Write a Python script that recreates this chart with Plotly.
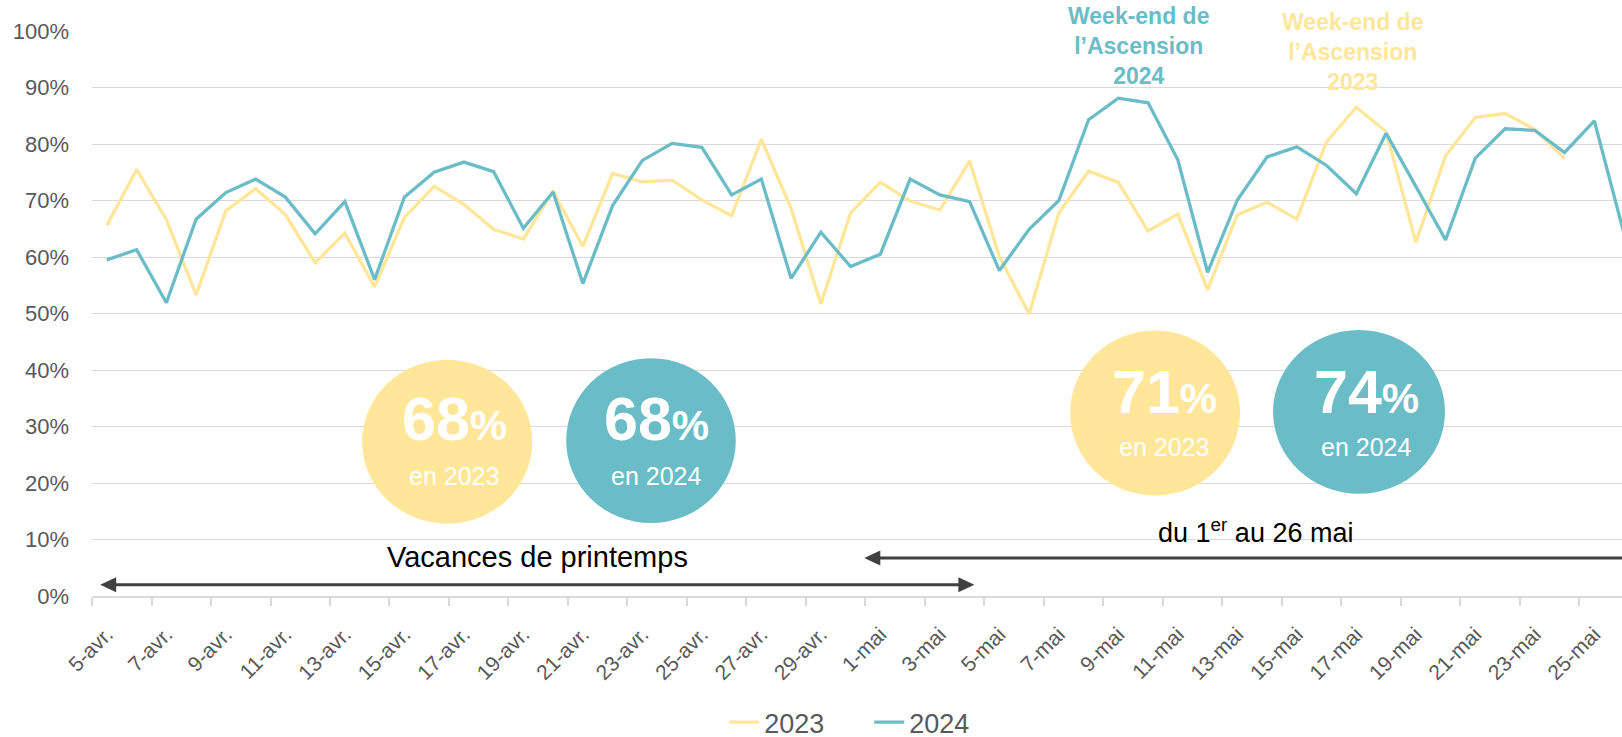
import plotly.graph_objects as go

# ---------------- data ----------------
dates = [
    "5-avr.", "6-avr.", "7-avr.", "8-avr.", "9-avr.", "10-avr.", "11-avr.", "12-avr.",
    "13-avr.", "14-avr.", "15-avr.", "16-avr.", "17-avr.", "18-avr.", "19-avr.", "20-avr.",
    "21-avr.", "22-avr.", "23-avr.", "24-avr.", "25-avr.", "26-avr.", "27-avr.", "28-avr.",
    "29-avr.", "30-avr.",
    "1-mai", "2-mai", "3-mai", "4-mai", "5-mai", "6-mai", "7-mai", "8-mai", "9-mai",
    "10-mai", "11-mai", "12-mai", "13-mai", "14-mai", "15-mai", "16-mai", "17-mai",
    "18-mai", "19-mai", "20-mai", "21-mai", "22-mai", "23-mai", "24-mai", "25-mai", "26-mai",
]

occ_2023 = [
    65.6, 75.5, 66.6, 53.3, 68.2, 72.1, 67.5, 59.0, 64.2, 54.7,
    67.0, 72.5, 69.3, 64.9, 63.2, 71.6, 61.9, 74.8, 73.3, 73.6,
    70.1, 67.3, 80.8, 68.6, 51.7, 67.8,
    73.2, 69.9, 68.3, 77.0, 60.1, 49.9, 67.8, 75.2, 73.2, 64.6,
    67.6, 54.2, 67.5, 69.7, 66.7, 80.4, 86.5, 82.2, 62.6, 77.9,
    84.7, 85.4, 82.6, 77.4, None, None,
]

occ_2024 = [
    59.5, 61.3, 51.9, 66.7, 71.4, 73.8, 70.6, 64.1, 69.8, 56.0,
    70.6, 75.0, 76.8, 75.1, 65.1, 71.5, 55.3, 69.1, 77.1, 80.1,
    79.4, 71.0, 73.8, 56.2, 64.4, 58.3,
    60.5, 73.8, 71.0, 69.8, 57.6, 64.9, 70.0, 84.3, 88.1, 87.3,
    77.2, 57.3, 70.1, 77.7, 79.5, 76.2, 71.2, 81.9, 72.5, 63.0,
    77.5, 82.7, 82.4, 78.5, 84.1, 64.1,
]

series_names = ["2023", "2024"]
avg_spring = ["68", "68"]      # vacances de printemps
avg_may = ["71", "74"]         # du 1er au 26 mai

YELLOW = "#FFE699"
TEAL = "#6ABDC6"
GRID = "#D9D9D9"
LABEL = "#595959"
ARROW = "#404040"
FONT = "Liberation Sans, Arial, sans-serif"

x_idx = list(range(len(dates)))

fig = go.Figure()
for name, vals, col in zip(series_names, [occ_2023, occ_2024], [YELLOW, TEAL]):
    fig.add_trace(go.Scatter(
        x=x_idx, y=vals, mode="lines", name=name,
        line=dict(color=col, width=3.3), hoverinfo="skip",
    ))

# ---------------- bubbles ----------------
bubbles = [
    # x0, x1, y0, y1, color
    (8.58, 14.30, 12.8, 41.8, YELLOW),
    (15.44, 21.14, 12.9, 42.1, TEAL),
    (32.38, 38.09, 17.8, 47.0, YELLOW),
    (39.20, 44.98, 18.1, 47.1, TEAL),
]
for x0, x1, y0, y1, col in bubbles:
    fig.add_shape(type="circle", xref="x", yref="y", x0=x0, x1=x1, y0=y0, y1=y1,
                  fillcolor=col, line=dict(width=0), layer="above")

bubble_text = [
    (11.67, 31.27, 21.17, avg_spring[0], series_names[0]),
    (18.46, 31.27, 21.17, avg_spring[1], series_names[1]),
    (35.54, 36.10, 26.46, avg_may[0], series_names[0]),
    (42.33, 36.10, 26.46, avg_may[1], series_names[1]),
]
annotations = []
for x, yb, ys, val, yr in bubble_text:
    annotations.append(dict(
        x=x, y=yb, xref="x", yref="y", showarrow=False, xanchor="center", yanchor="middle",
        text=f"<b>{val}<span style='font-size:42px'>%</span></b>",
        font=dict(family=FONT, size=61, color="white"),
    ))
    annotations.append(dict(
        x=x, y=ys, xref="x", yref="y", showarrow=False, xanchor="center", yanchor="middle",
        text=f"en {yr}", font=dict(family=FONT, size=25, color="white"),
    ))

# Ascension labels
annotations.append(dict(
    x=34.67, y=97.33, xref="x", yref="y", showarrow=False, xanchor="center", yanchor="middle",
    text="<b>Week-end de<br>l’Ascension<br>2024</b>",
    font=dict(family=FONT, size=23, color=TEAL),
))
annotations.append(dict(
    x=41.87, y=96.37, xref="x", yref="y", showarrow=False, xanchor="center", yanchor="middle",
    text="<b>Week-end de<br>l’Ascension<br>2023</b>",
    font=dict(family=FONT, size=23, color=YELLOW),
))

# period labels
annotations.append(dict(
    x=14.48, y=6.83, xref="x", yref="y", showarrow=False, xanchor="center", yanchor="middle",
    text="Vacances de printemps", font=dict(family=FONT, size=29, color="black"),
))
annotations.append(dict(
    x=38.62, y=11.5, xref="x", yref="y", showarrow=False, xanchor="center", yanchor="middle",
    text="du 1<sup>er</sup> au 26 mai", font=dict(family=FONT, size=27, color="black"),
))

# ---------------- double arrows (line + triangle heads) ----------------
arrows = [
    # x_left_tip, x_right_tip, y
    (-0.225, 29.16, 2.0),
    (25.46, 51.47, 6.74),
]
for xl, xr, y in arrows:
    fig.add_shape(type="line", xref="x", yref="y", x0=xl + 0.3, x1=xr - 0.3, y0=y, y1=y,
                  line=dict(color=ARROW, width=3), layer="above")
    fig.add_shape(type="path", xref="x", yref="y", xsizemode="pixel", ysizemode="pixel",
                  xanchor=xl, yanchor=y, path="M 0,0 L 16,7.5 L 16,-7.5 Z",
                  fillcolor=ARROW, line=dict(width=0), layer="above")
    fig.add_shape(type="path", xref="x", yref="y", xsizemode="pixel", ysizemode="pixel",
                  xanchor=xr, yanchor=y, path="M 0,0 L -16,7.5 L -16,-7.5 Z",
                  fillcolor=ARROW, line=dict(width=0), layer="above")

fig.update_layout(
    width=1622, height=737,
    margin=dict(l=92, r=0, t=31, b=141, autoexpand=False),
    paper_bgcolor="white", plot_bgcolor="white",
    font=dict(family=FONT, color=LABEL),
    showlegend=True,
    legend=dict(orientation="h", x=0.508, xanchor="center", y=-0.224, yanchor="middle",
                font=dict(size=27, color=LABEL), traceorder="normal",
                entrywidth=100, entrywidthmode="pixels"),
    annotations=annotations,
    hovermode=False,
)

fig.update_xaxes(
    range=[-0.5, 50.93], showgrid=False, zeroline=False, automargin=False,
    showline=True, linecolor=GRID, linewidth=1.5,
    tickmode="array", tickvals=x_idx[::2], ticktext=dates[::2],
    ticks="", tickangle=-45, tickfont=dict(size=21, color=LABEL),
    ticklabelstandoff=16,
    minor=dict(tickmode="linear", tick0=-0.5, dtick=2, ticks="outside",
               ticklen=8, tickcolor=GRID, tickwidth=1.5, showgrid=False),
)
fig.update_yaxes(
    range=[0, 100], tickmode="array", tickvals=list(range(0, 101, 10)),
    ticktext=[f"{v}%" for v in range(0, 101, 10)], automargin=False,
    showgrid=True, gridcolor=GRID, gridwidth=1.3, zeroline=False, showline=False,
    ticks="", tickfont=dict(size=22, color=LABEL), ticklabelstandoff=22,
)

fig.write_html(
    "out.html",
    config={"displayModeBar": False},
    post_script="document.body.style.margin='0';document.body.style.overflow='hidden';",
)
